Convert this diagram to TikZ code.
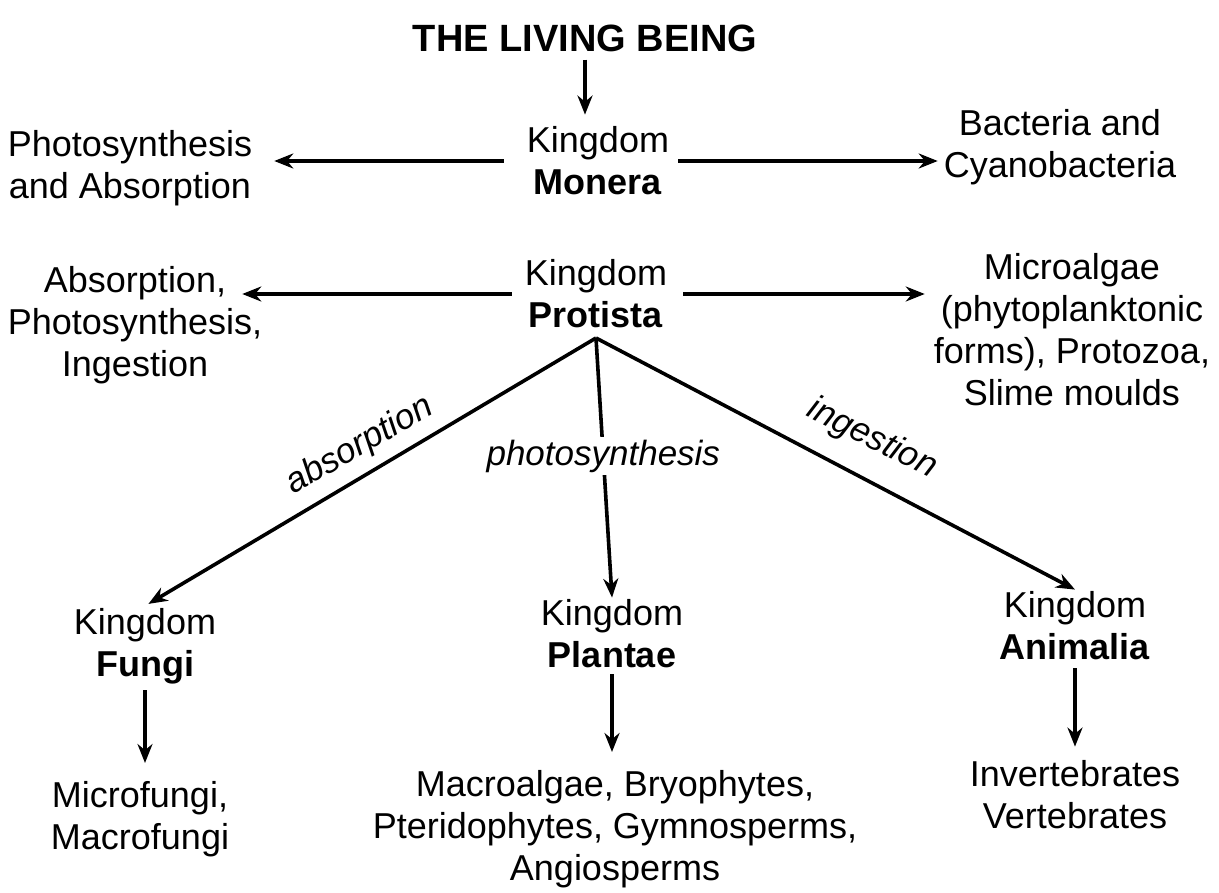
\documentclass[tikz,border=0pt]{standalone}
\usepackage{fontspec}
\setmainfont{Liberation Sans}
\usetikzlibrary{arrows.meta}
\begin{document}
\begin{tikzpicture}[x=1pt,y=-1pt,
  txt/.style={align=center, font=\fontsize{36}{42}\selectfont, inner sep=2pt},
  lbl/.style={font=\fontsize{35}{40}\selectfont\itshape, inner sep=3pt},
  arr/.style={line width=3.6pt, -{Stealth[length=19pt,width=15pt]}},
  ln/.style={line width=3.6pt}]
\useasboundingbox (0,0) rectangle (1219,893);
\fill[white] (0,0) rectangle (1219,893);
% nodes
\node[txt, font=\fontsize{38}{42}\selectfont\bfseries] (title) at (585,38) {THE LIVING BEING};
\node[txt] (monera) at (598,161) {Kingdom\\\textbf{Monera}};
\node[txt] (photo) at (130,168) {Photosynthesis\\and Absorption};
\node[txt] (bact) at (1060,147) {Bacteria and\\Cyanobacteria};
\node[txt] (protista) at (596,294) {Kingdom\\\textbf{Protista}};
\node[txt] (absorp) at (135,325) {Absorption,\\Photosynthesis,\\Ingestion};
\node[txt] (micro) at (1072,330) {Microalgae\\(phytoplanktonic\\forms), Protozoa,\\Slime moulds};
\coordinate (split) at (596,338);
\node[txt] (fungi) at (145,646) {Kingdom\\\textbf{Fungi}};
\node[txt] (plantae) at (612,634) {Kingdom\\\textbf{Plantae}};
\node[txt] (animalia) at (1075,626) {Kingdom\\\textbf{Animalia}};
\node[txt] (mfungi) at (140,819) {Microfungi,\\Macrofungi};
\node[txt] (macro) at (615,829) {Macroalgae, Bryophytes,\\Pteridophytes, Gymnosperms,\\Angiosperms};
\node[txt] (invert) at (1075,795) {Invertebrates\\Vertebrates};
% connectors
\draw[arr, shorten <=6pt, shorten >=10pt] (title) -- (title |- monera.north);
\draw[arr, shorten <=21pt, shorten >=20pt] (monera.west) -- (photo.east |- monera.west);
\draw[arr, shorten <=7pt, shorten >=4pt] (monera.east) -- (bact.west |- monera.east);
\draw[arr, shorten <=11pt, shorten >=-22pt] (protista.west) -- (absorp.east |- protista.west);
\draw[arr, shorten <=14pt, shorten >=7pt] (protista.east) -- (micro.west |- protista.east);
\draw[arr, shorten >=4pt] (split) -- (fungi.north);
\draw[arr] (split) -- node[lbl, pos=.455, fill=white] (lphoto) {photosynthesis} (plantae.north);
\draw[arr] (split) -- (animalia.north);
\node[lbl, rotate=29.8] (labs) at (360,446) {absorption};
\node[lbl, rotate=-26.4] (ling) at (872,439) {ingestion};
\draw[arr, shorten <=4pt, shorten >=16pt] (fungi.south) -- (mfungi.north -| fungi.south);
\draw[arr, shorten <=4pt, shorten >=16pt] (plantae.south) -- (macro.north -| plantae.south);
\draw[arr, shorten <=6pt, shorten >=12pt] (animalia.south) -- (invert.north -| animalia.south);
\end{tikzpicture}
\end{document}
